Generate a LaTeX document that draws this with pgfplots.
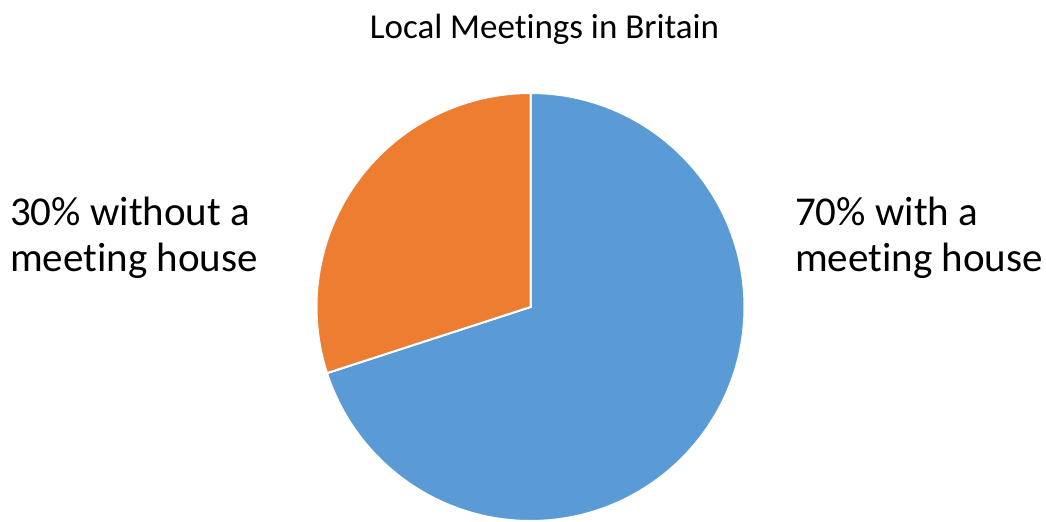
\documentclass[border=0pt]{standalone}
\usepackage{pgfplots}
\usepackage{pgfplotstable}
\pgfplotsset{compat=1.18}
\usepackage{fontspec}
\setmainfont[Ligatures=NoCommon]{Carlito}
\definecolor{pieblue}{HTML}{5B9BD5}
\definecolor{pieorange}{HTML}{ED7D31}
\pgfplotstableread{
label value
with 70
without 30
}\piedata
\begin{document}
\begin{tikzpicture}
\pgfplotstablegetelem{0}{value}\of\piedata \let\vwith\pgfplotsretval
\pgfplotstablegetelem{1}{value}\of\piedata \let\vwithout\pgfplotsretval
\pgfmathsetmacro{\aend}{90-3.6*\vwith}
\pgfmathsetmacro{\bend}{\aend-3.6*\vwithout}
\useasboundingbox (0,0) rectangle (1046bp,522bp);
\begin{axis}[
  at={(0,0)}, anchor=south west,
  width=1046bp, height=522bp, scale only axis,
  xmin=0, xmax=1046, ymin=0, ymax=522,
  hide axis, clip=false,
]
\fill[pieblue, draw=white, line width=2bp] (axis cs:530.5,215) -- ++(90:214bp) arc[start angle=90, end angle=\aend, radius=214bp] -- cycle;
\fill[pieorange, draw=white, line width=2bp] (axis cs:530.5,215) -- ++(\aend:214bp) arc[start angle=\aend, end angle=\bend, radius=214bp] -- cycle;
\node[anchor=base, font=\fontsize{35bp}{40bp}\selectfont] at (axis cs:544.5,483) {Local Meetings in Britain};
\node[anchor=base west, font=\fontsize{41bp}{48bp}\selectfont, inner sep=0pt] at (axis cs:10,296) {30\% without a};
\node[anchor=base west, font=\fontsize{41bp}{48bp}\selectfont, inner sep=0pt] at (axis cs:10,250) {meeting house};
\node[anchor=base west, font=\fontsize{41bp}{48bp}\selectfont, inner sep=0pt] at (axis cs:795,296) {70\% with a};
\node[anchor=base west, font=\fontsize{41bp}{48bp}\selectfont, inner sep=0pt] at (axis cs:795,250) {meeting house};
\end{axis}
\end{tikzpicture}
\end{document}
